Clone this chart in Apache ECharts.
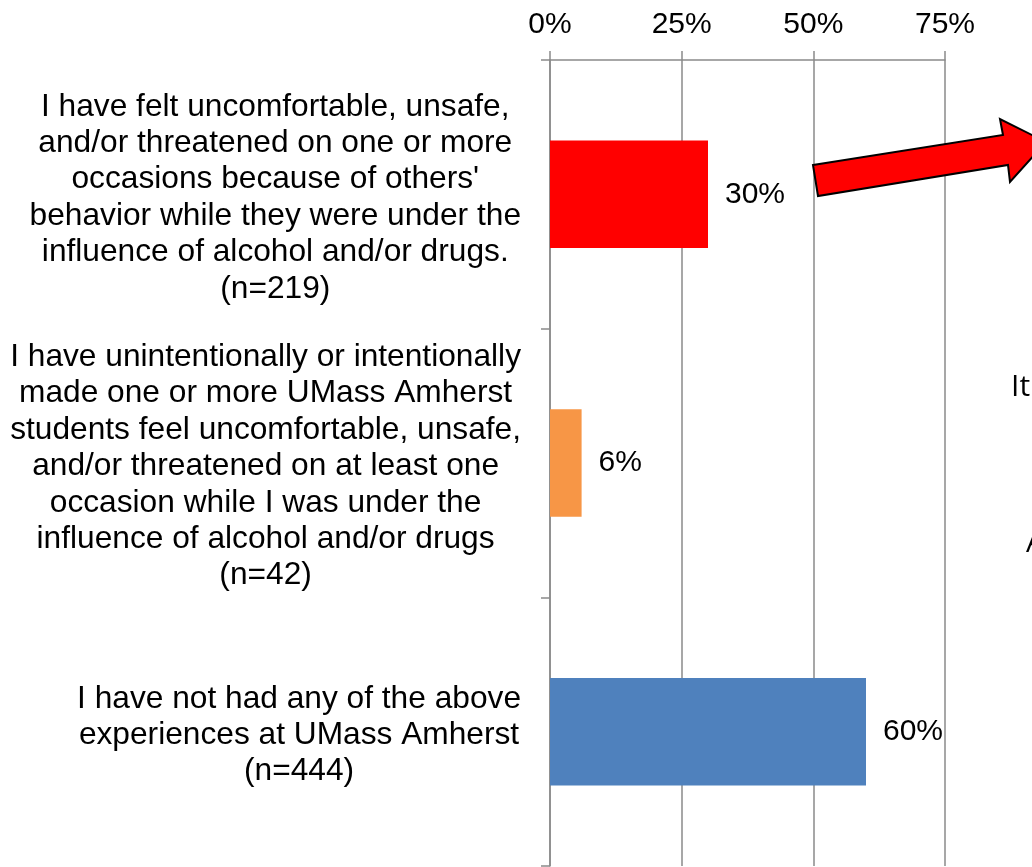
<!DOCTYPE html>
<html>
<head>
<meta charset="utf-8">
<script src="https://cdn.jsdelivr.net/npm/echarts@6/dist/echarts.min.js"></script>
<style>
  html, body { margin: 0; padding: 0; background: #fff; }
  #chart { width: 1032px; height: 867px; }
</style>
</head>
<body>
<div id="chart"></div>
<script>
// 数据
const categories = [
  "I have felt uncomfortable, unsafe,\nand/or threatened on one or more\noccasions because of others'\nbehavior while they were under the\ninfluence of alcohol and/or drugs.\n(n=219)",
  "I have unintentionally or intentionally\nmade one or more UMass Amherst\nstudents feel uncomfortable, unsafe,\nand/or threatened on at least one\noccasion while I was under the\ninfluence of alcohol and/or drugs\n(n=42)",
  "I have not had any of the above\nexperiences at UMass Amherst\n(n=444)",
];
const percents = [30, 6, 60];
const barColors = ["#ff0000", "#f79646", "#4f81bd"];
const xTicks = [0, 25, 50, 75];

const GRID_COLOR = "#8a8a8a";
const FONT = "'Liberation Sans', Arial, sans-serif";

const chart = echarts.init(document.getElementById("chart"), null, { renderer: "canvas" });

chart.setOption({
  animation: false,
  backgroundColor: "#fff",
  grid: {
    left: 550,
    right: 87,
    top: 60,
    bottom: 1,
    containLabel: false,
    outerBoundsMode: "none",
  },
  xAxis: {
    type: "value",
    position: "top",
    min: xTicks[0],
    max: xTicks[xTicks.length - 1],
    interval: 25,
    axisLine: { show: true, lineStyle: { color: GRID_COLOR, width: 1.5 } },
    axisTick: { show: true, inside: false, length: 9, lineStyle: { color: GRID_COLOR, width: 1.5 } },
    splitLine: { show: true, lineStyle: { color: GRID_COLOR, width: 1.5 } },
    axisLabel: {
      formatter: "{value}%",
      color: "#000",
      fontSize: 30,
      fontFamily: FONT,
      margin: 20,
    },
  },
  yAxis: {
    type: "category",
    inverse: true,
    data: categories,
    axisLine: { show: true, lineStyle: { color: GRID_COLOR, width: 1.5 } },
    axisTick: { show: true, inside: false, length: 9, lineStyle: { color: GRID_COLOR, width: 1.5 } },
    splitLine: { show: false },
    axisLabel: {
      margin: 29,
      padding: [7, 0, 0, 0],
      // 每行居中，整体右对齐
      formatter: (v) => "{c|" + v + "}",
      rich: {
        c: {
          color: "#000",
          fontSize: 31.7,
          lineHeight: 36.4,
          fontFamily: FONT,
          align: "center",
        },
      },
    },
  },
  series: [
    {
      type: "bar",
      barCategoryGap: "60%",
      data: percents.map((v, i) => ({
        value: v,
        itemStyle: { color: barColors[i] },
      })),
      label: {
        show: true,
        position: "right",
        distance: 17,
        formatter: "{c}%",
        color: "#000",
        fontSize: 30,
        fontFamily: FONT,
      },
    },
  ],
  graphic: [
    {
      type: "polygon",
      shape: {
        points: [
          [813, 165], [1003, 135], [1000, 119], [1046, 142],
          [1010, 182], [1008, 165], [818, 196],
        ],
      },
      style: { fill: "#ff0000", stroke: "#000", lineWidth: 2 },
      z: 10,
    },
    {
      type: "text",
      left: 1011,
      top: 372,
      style: { text: "It", fill: "#000", font: "30px 'Open Sans', sans-serif" },
    },
    {
      type: "text",
      left: 1026,
      top: 528,
      style: { text: "A", fill: "#000", font: "30px 'Open Sans', sans-serif" },
    },
  ],
});
</script>
</body>
</html>
